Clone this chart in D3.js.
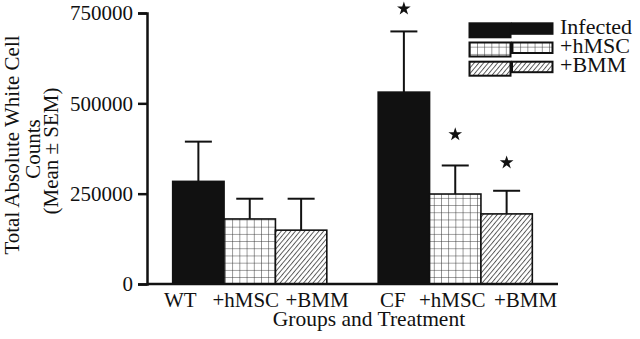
<!DOCTYPE html>
<html><head><meta charset="utf-8">
<script src="https://cdn.jsdelivr.net/npm/d3@7"></script>
<style>
html,body{margin:0;padding:0;background:#fff;}
svg{display:block;font-family:"Liberation Serif","Times New Roman",serif;}
</style></head>
<body>
<svg id="c" width="640" height="339"></svg>
<script>
// ---- data ----
const slots = ["WT","WT+hMSC","WT+BMM","gap","CF","CF+hMSC","CF+BMM"];
const tickLabels = ["WT","+hMSC","+BMM","CF","+hMSC","+BMM"];
const barSlots = ["WT","WT+hMSC","WT+BMM","CF","CF+hMSC","CF+BMM"];
const treatments = ["infected","hmsc","bmm","infected","hmsc","bmm"];
const means = [284000,180000,149000,531000,249000,194000];
const sems  = [110000, 56000, 87000,168000, 79000, 64000];
const starValues = [null,null,null,762000,414000,336000];
const yTicks = [0,250000,500000,750000];
const legendItems = [["infected","Infected"],["hmsc","+hMSC"],["bmm","+BMM"]];

// ---- layout ----
const svg = d3.select("#c");
const x = d3.scaleBand().domain(slots).range([147,558]).paddingInner(0).paddingOuter(0.5);
const y = d3.scaleLinear().domain([0,750000]).range([284,13]);
const labelDx = [-18,-4,16,-11,-3,19];

const defs = svg.append("defs");
const grid = defs.append("pattern").attr("id","grid").attr("patternUnits","userSpaceOnUse")
  .attr("width",7.2).attr("height",7.2).attr("x",225).attr("y",219.5);
grid.append("rect").attr("width",7.2).attr("height",7.2).attr("fill","#fff");
grid.append("path").attr("d","M0,0V7.2M0,0H7.2").attr("stroke","#333").attr("stroke-width",1).attr("fill","none");
const hatch = defs.append("pattern").attr("id","hatch").attr("patternUnits","userSpaceOnUse")
  .attr("width",3.6).attr("height",10).attr("patternTransform","rotate(40)");
hatch.append("rect").attr("width",3.6).attr("height",10).attr("fill","#fff");
hatch.append("line").attr("x1",0.5).attr("x2",0.5).attr("y1",0).attr("y2",10).attr("stroke","#444").attr("stroke-width",0.9);
const fillFor = {infected:"#111", hmsc:"url(#grid)", bmm:"url(#hatch)"};

const bars = barSlots.map((s,i)=>({slot:s,t:treatments[i],m:means[i],e:sems[i],star:starValues[i]}));

// error bars (behind)
const eb = svg.append("g").attr("stroke","#111").attr("stroke-width",2);
bars.forEach(d=>{
  const cx = x(d.slot)+x.bandwidth()/2;
  eb.append("line").attr("x1",cx).attr("x2",cx).attr("y1",y(d.m)).attr("y2",y(d.m+d.e));
  eb.append("line").attr("x1",cx-13.5).attr("x2",cx+13.5).attr("y1",y(d.m+d.e)).attr("y2",y(d.m+d.e));
});

svg.append("g").selectAll("rect").data(bars).join("rect")
  .attr("x",d=>x(d.slot)).attr("width",x.bandwidth())
  .attr("y",d=>y(d.m)).attr("height",d=>y(0)-y(d.m))
  .attr("fill",d=>fillFor[d.t]).attr("stroke","#111").attr("stroke-width",1.6);

// stars
svg.append("g").selectAll("path").data(bars.filter(d=>d.star!=null)).join("path")
  .attr("d",d3.symbol(d3.symbolStar,58))
  .attr("transform",d=>`translate(${x(d.slot)+x.bandwidth()/2},${y(d.star)})`)
  .attr("fill","#111");

// axes
const yAxis = svg.append("g").attr("transform","translate(147,0)")
  .call(d3.axisLeft(y).tickValues(yTicks).tickFormat(d3.format("d")).tickSize(9).tickPadding(5));
yAxis.select(".domain").attr("stroke","#111").attr("stroke-width",2.5);
yAxis.selectAll(".tick line").attr("stroke","#111").attr("stroke-width",2.5);
yAxis.selectAll(".tick text").attr("font-size",21).attr("font-family","Liberation Serif").attr("fill","#111");

svg.append("line").attr("x1",147).attr("x2",558).attr("y1",y(0)).attr("y2",y(0))
  .attr("stroke","#111").attr("stroke-width",2.5);

svg.append("g").selectAll("text").data(barSlots).join("text")
  .attr("x",(d,i)=>x(d)+x.bandwidth()/2+labelDx[i]).attr("y",306.5)
  .attr("text-anchor","middle").attr("font-size",21).attr("fill","#111")
  .text((d,i)=>tickLabels[i]);

svg.append("text").attr("x",369).attr("y",326).attr("text-anchor","middle")
  .attr("font-size",21.5).attr("fill","#111").text("Groups and Treatment");

const yt = svg.append("text").attr("transform","translate(0,145) rotate(-90)")
  .attr("text-anchor","middle").attr("font-size",21).attr("fill","#111");
yt.append("tspan").attr("x",0).attr("y",18.5).text("Total Absolute White Cell");
yt.append("tspan").attr("x",-4).attr("y",40).text("Counts");
yt.append("tspan").attr("x",-6).attr("y",57.5).text("(Mean \u00b1 SEM)");

// legend
const lg = svg.append("g");
legendItems.forEach((it,i)=>{
  const top = 23.3 + i*19.2;
  lg.append("rect").attr("x",469.5).attr("y",top).attr("width",41).attr("height",14)
    .attr("fill",fillFor[it[0]]).attr("stroke","#111").attr("stroke-width",2);
  lg.append("rect").attr("x",512).attr("y",top).attr("width",40.5).attr("height",10.5)
    .attr("fill",fillFor[it[0]]).attr("stroke","#111").attr("stroke-width",2);
  lg.append("text").attr("x",560).attr("y",top+10.5).attr("font-size",22).attr("fill","#111").text(it[1]);
});
</script>
</body></html>
